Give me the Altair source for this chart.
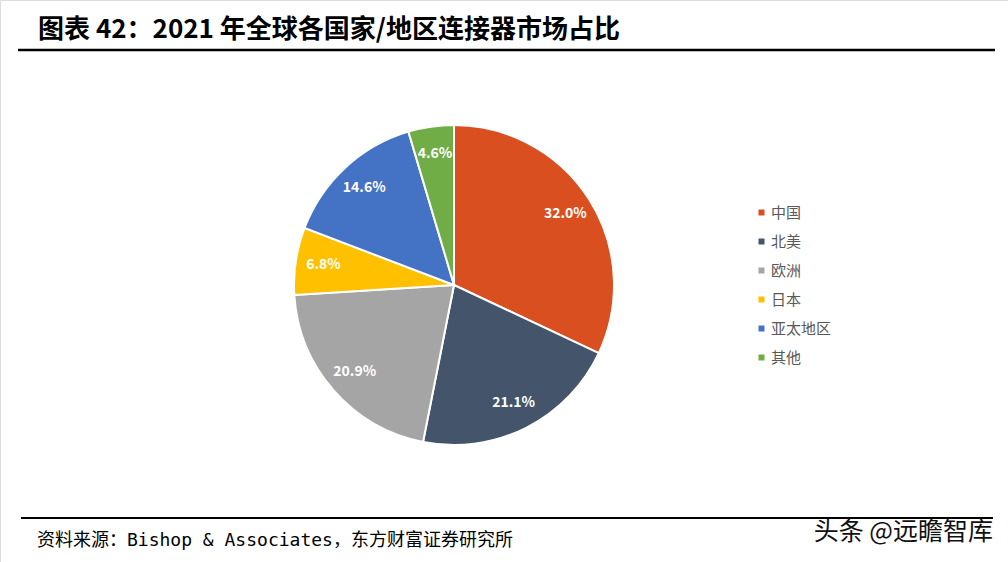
import altair as alt
import pandas as pd

categories = ["中国", "北美", "欧洲", "日本", "亚太地区", "其他"]
values = [32.0, 21.1, 20.9, 6.8, 14.6, 4.6]
colors = ["#DA4F1F", "#44546A", "#A5A5A5", "#FFC000", "#4472C4", "#70AD47"]

title_text = "图表 42：2021 年全球各国家/地区连接器市场占比"
source_text = "资料来源：Bishop & Associates，东方财富证券研究所"
watermark_text = "头条 @远瞻智库"

FONT = "Noto Sans CJK SC"
MONO = "DejaVu Sans Mono, Noto Sans CJK SC"

df = pd.DataFrame({
    "region": categories,
    "value": values,
    "order": list(range(len(categories))),
    "label": [f"{v:.1f}%" for v in values],
})

cx, cy = 454, 285

base = alt.Chart(df).encode(
    theta=alt.Theta("value:Q", stack=True),
    order=alt.Order("order:Q"),
)

pie = base.mark_arc(radius=160, stroke="white", strokeWidth=2).encode(
    x=alt.value(cx),
    y=alt.value(cy),
    color=alt.Color(
        "region:N",
        scale=alt.Scale(domain=categories, range=colors),
        sort=categories,
        legend=alt.Legend(
            title=None,
            orient="none",
            legendX=754,
            legendY=205,
            symbolType="square",
            symbolSize=36,
            symbolStrokeWidth=0,
            labelFont=FONT,
            labelFontSize=15,
            labelColor="#595959",
            rowPadding=13,
            labelOffset=2,
            padding=0,
        ),
    ),
)

labels = base.mark_text(
    radius=132, font=FONT, fontSize=14, fontWeight="bold", color="white"
).encode(
    x=alt.value(cx),
    y=alt.value(cy),
    text="label:N",
)

one = pd.DataFrame({"t": [title_text], "s": [source_text], "w": [watermark_text]})

title = alt.Chart(one).mark_text(
    align="left", baseline="middle", font=FONT, fontSize=26, fontWeight="bold", color="#000000"
).encode(x=alt.value(38), y=alt.value(30), text="t:N")

source = alt.Chart(one).mark_text(
    align="left", baseline="middle", font=MONO, fontSize=18, color="#000000"
).encode(x=alt.value(37), y=alt.value(541), text="s:N")

watermark = alt.Chart(one).mark_text(
    align="right", baseline="middle", font=FONT, fontSize=25, color="#111111"
).encode(x=alt.value(993), y=alt.value(532), text="w:N")

top_rule = alt.Chart(one).mark_rule(color="black", strokeWidth=2.5).encode(
    x=alt.value(18), x2=alt.value(995), y=alt.value(50)
)
bottom_rule = alt.Chart(one).mark_rule(color="black", strokeWidth=2).encode(
    x=alt.value(21), x2=alt.value(993), y=alt.value(518)
)

chart = alt.layer(pie, labels, top_rule, bottom_rule, title, source, watermark).properties(
    width=1008, height=562, padding=0, autosize=alt.AutoSizeParams(type="none")
).configure_view(stroke=None).configure(background="white")

chart.save("out.html", embed_options={"renderer": "svg", "actions": False})
